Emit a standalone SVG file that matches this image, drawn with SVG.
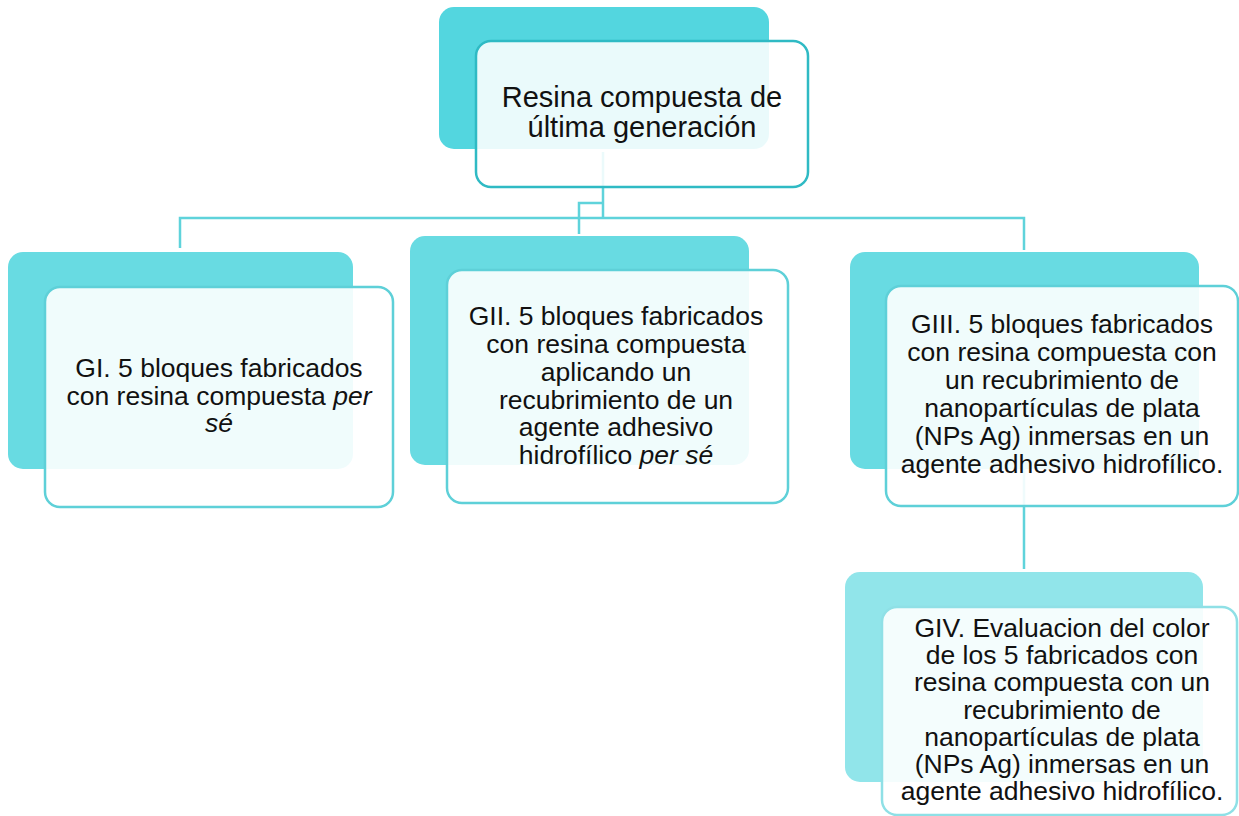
<svg xmlns="http://www.w3.org/2000/svg" width="1239" height="816" viewBox="0 0 1239 816">
<style>
.conn{fill:none;stroke:#5fd3db;stroke-width:2.5}
.back{fill:#68dbe2}
.front{fill:#ffffff;fill-opacity:0.9;stroke:#5ed0d8;stroke-width:2.5}
.t{font-family:"Liberation Sans",Arial,sans-serif;font-size:26.5px;fill:#111111;text-anchor:middle}
.it{font-style:italic}
</style>
<rect width="1239" height="816" fill="#ffffff"/>
<g id="connectors">
<path class="conn" d="M603,152 V218 M180,248 V218 H1024 V250 M603,203 H579 V234 M1024,469 V569"/>
</g>
<g id="root">
<rect x="439" y="7" width="330" height="142" rx="15" fill="#53d6df"/>
<rect x="476" y="41" width="332" height="146" rx="15" fill="#ffffff" fill-opacity="0.88" stroke="#2fbac4" stroke-width="2.5"/>
<text class="t" style="font-size:29px" x="642" y="107">Resina compuesta de</text>
<text class="t" style="font-size:29px" x="642" y="137">última generación</text>
</g>
<g id="g1">
<rect class="back" x="8" y="252" width="345" height="217" rx="15"/>
<rect class="front" x="45" y="287" width="348" height="220" rx="15"/>
<text class="t" x="219" y="377">GI. 5 bloques fabricados</text>
<text class="t" x="219" y="404.5">con resina compuesta <tspan class="it">per</tspan></text>
<text class="t it" x="219" y="432">sé</text>
</g>
<g id="g2">
<rect class="back" x="410" y="236" width="339" height="229" rx="15"/>
<rect class="front" x="447" y="270" width="341" height="233" rx="15"/>
<text class="t" x="616" y="325">GII. 5 bloques fabricados</text>
<text class="t" x="616" y="353">con resina compuesta</text>
<text class="t" x="616" y="381">aplicando un</text>
<text class="t" x="616" y="408.5">recubrimiento de un</text>
<text class="t" x="616" y="436">agente adhesivo</text>
<text class="t" x="616" y="464">hidrofílico <tspan class="it">per sé</tspan></text>
</g>
<g id="g3">
<rect class="back" x="850" y="252" width="349" height="217" rx="15"/>
<rect class="front" x="886" y="286" width="352" height="220" rx="15"/>
<text class="t" x="1062" y="333">GIII. 5 bloques fabricados</text>
<text class="t" x="1062" y="361">con resina compuesta con</text>
<text class="t" x="1062" y="389">un recubrimiento de</text>
<text class="t" x="1062" y="417">nanopartículas de plata</text>
<text class="t" x="1062" y="445">(NPs Ag) inmersas en un</text>
<text class="t" x="1062" y="473">agente adhesivo hidrofílico.</text>
</g>
<g id="g4">
<rect x="845" y="572" width="358" height="210" rx="15" fill="#91e5ea"/>
<rect x="882" y="607" width="355" height="208" rx="15" fill="#ffffff" fill-opacity="0.9" stroke="#8fe0e6" stroke-width="2.5"/>
<text class="t" x="1062" y="637">GIV. Evaluacion del color</text>
<text class="t" x="1062" y="664.2">de los 5 fabricados con</text>
<text class="t" x="1062" y="691.4">resina compuesta con un</text>
<text class="t" x="1062" y="718.6">recubrimiento de</text>
<text class="t" x="1062" y="745.8">nanopartículas de plata</text>
<text class="t" x="1062" y="773">(NPs Ag) inmersas en un</text>
<text class="t" x="1062" y="800.2">agente adhesivo hidrofílico.</text>
</g>
</svg>
